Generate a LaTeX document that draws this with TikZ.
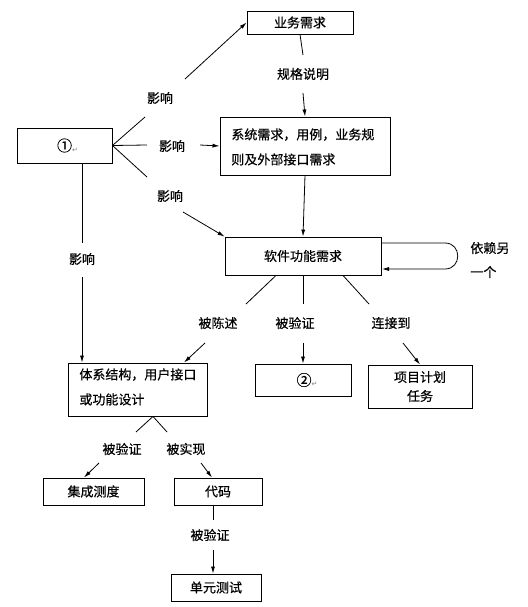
\documentclass[tikz,border=0pt]{standalone}
\usepackage{fontspec}
\newfontfamily\cjk[FakeBold=0.5]{Noto Sans CJK SC}
\newfontfamily\dvs{DejaVu Sans}
\usetikzlibrary{arrows.meta}
\begin{document}
\begin{tikzpicture}[x=1pt,y=-1pt,
  font=\cjk\fontsize{13}{15}\selectfont,
  line width=0.8pt,
  box/.style={draw,line width=0.9pt,inner sep=0pt},
  lbl/.style={inner sep=1pt},
  arr/.style={-{Latex[length=7pt,width=4pt]}}]
\useasboundingbox (0,0) rectangle (527,607);
% boxes
\node[box,minimum width=106pt,minimum height=23pt] (biz) at (300,22.5) {业务需求};
\node[box,minimum width=170pt,minimum height=58pt] (sys) at (305,146) {};
\node[anchor=north west,inner sep=0pt,align=left,font=\cjk\fontsize{13}{25}\selectfont] (systxt) at (231,128) {系统需求，用例，业务规\\则及外部接口需求};
\node[box,minimum width=95pt,minimum height=35pt] (one) at (64.5,145.5) {\hspace{6pt}{\fontsize{15}{15}\selectfont ①}\raisebox{-1pt}{\textcolor{gray}{\dvs\fontsize{7}{8}\selectfont ↵}}};
\node[box,minimum width=156pt,minimum height=38pt] (sw) at (303,256) {软件功能需求};
\node[box,minimum width=139pt,minimum height=53pt] (arch) at (137.5,389.5) {};
\node[anchor=north west,inner sep=0pt,align=left,font=\cjk\fontsize{13}{25}\selectfont] (archtxt) at (79,368) {体系结构，用户接口\\或功能设计};
\node[box,minimum width=96pt,minimum height=32pt] (two) at (303,380) {\hspace{8pt}{\fontsize{15}{15}\selectfont ②}\raisebox{-1pt}{\textcolor{gray}{\dvs\fontsize{7}{8}\selectfont ↵}}};
\node[box,minimum width=104pt,minimum height=43pt,align=center,font=\cjk\fontsize{13}{19}\selectfont] (proj) at (420,386.5) {项目计划\\任务};
\node[box,minimum width=101pt,minimum height=27pt] (integ) at (93.5,491.5) {集成测度};
\node[box,minimum width=88pt,minimum height=27pt] (code) at (218,491.5) {代码};
\node[box,minimum width=90pt,minimum height=27pt] (unit) at (216,587.5) {单元测试};
% labels
\node[lbl] (lup) at (160,98) {影响};
\node[lbl] (lmid) at (172,146) {影响};
\node[lbl] (llow) at (170,196) {影响};
\node[lbl] (lleft) at (82,259) {影响};
\node[lbl] (lspec) at (303,74) {规格说明};
\node[lbl,anchor=west,align=left,font=\cjk\fontsize{13}{24}\selectfont] (ldep) at (469,260) {依赖另\\一个};
\node[lbl] (ldesc) at (218,323) {被陈述};
\node[lbl] (lver) at (295,323) {被验证};
\node[lbl] (lcon) at (391,323) {连接到};
\node[lbl] (lver2) at (122,449) {被验证};
\node[lbl] (limp) at (186,449) {被实现};
\node[lbl] (lver3) at (210,535) {被验证};
% break coordinates
\coordinate (a1) at (145,117);
\coordinate (a2) at (185,79);
\coordinate (b1) at (147,145);
\coordinate (b2) at (200,145);
\coordinate (c1) at (147,177);
\coordinate (c2) at (183,212);
\coordinate (d1) at (82,243);
\coordinate (d2) at (82,277);
\coordinate (s1) at (303,55);
\coordinate (s2) at (303,93);
\coordinate (e1) at (246,304);
\coordinate (e2) at (205,343);
\coordinate (f1) at (303,304);
\coordinate (f2) at (303,343);
\coordinate (g1) at (369,304);
\coordinate (g2) at (403,343);
\coordinate (h1) at (136,432);
\coordinate (h2) at (99,463);
\coordinate (i1) at (167,432);
\coordinate (i2) at (201,463);
\coordinate (j1) at (213,520);
\coordinate (j2) at (213,550);
\coordinate (loopA) at (381,243);
\coordinate (loopB) at (382,269);
% connectors
\draw (one.east) -- (a1);
\draw[arr] (a2) -- (biz.west);
\draw (one.east) -- (b1);
\draw[arr] (b2) -- (sys.west);
\draw (one.east) -- (c1);
\draw[arr] (c2) -- (sw.north west);
\draw (biz.south) -- (s1);
\draw[arr] (s2) -- (sys.north);
\draw[arr] (sys.south) -- (sw.north);
\draw (one.south -| d1) -- (d1);
\draw[arr] (d2) -- (arch.north -| d2);
\draw (sw.south -| 276,0) -- (e1);
\draw[arr] (e2) -- (arch.north -| 184,0);
\draw (sw.south) -- (f1);
\draw[arr] (f2) -- (two.north);
\draw (sw.south -| 343,0) -- (g1);
\draw[arr] (g2) -- (proj.north);
\draw (arch.south -| 153,0) -- (h1);
\draw (arch.south -| 153,0) -- (i1);
\draw[arr] (h2) -- (integ.north -| 84,0);
\draw[arr] (i2) -- (code.north -| 212,0);
\draw (code.south -| j1) -- (j1);
\draw[arr] (j2) -- (unit.north -| j2);
\draw[arr] (loopA) -- (445,243) .. controls (462,243) and (462,269) .. (445,269) -- (loopB);
\end{tikzpicture}
\end{document}
